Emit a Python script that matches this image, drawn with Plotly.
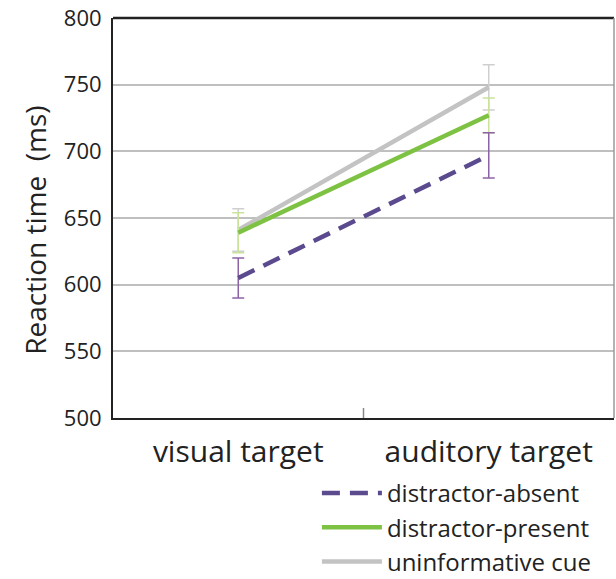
import plotly.graph_objects as go

categories = ["visual target", "auditory target"]
series_names = ["distractor-absent", "distractor-present", "uninformative cue"]
absent_rt = [605, 697]
absent_err = [15, 17]
present_rt = [639, 727]
present_err = [15, 13]
uninf_rt = [641, 748]
uninf_err = [16, 17]
y_ticks = [500, 550, 600, 650, 700, 750, 800]
y_title = "Reaction time  (ms)"

FONT = "Open Sans"
fig = go.Figure()

specs = [
    (series_names[2], uninf_rt, uninf_err, "#c3c3c3", "#cfcfcf", "solid"),
    (series_names[1], present_rt, present_err, "#7dc242", "#c9e39a", "solid"),
    (series_names[0], absent_rt, absent_err, "#5b4a8e", "#8e63a6", "18px,10px"),
]
for rank, (name, y, e, lc, ec, dash) in zip([3, 2, 1], specs):
    fig.add_trace(go.Scatter(
        x=categories, y=y, name=name, mode="lines", legendrank=rank,
        line=dict(color=lc, width=4.5, dash=dash),
        error_y=dict(type="data", array=e, visible=True, color=ec, thickness=1.5, width=6),
    ))

fig.update_layout(
    width=616, height=579,
    margin=dict(l=113, r=2, t=18, b=161, autoexpand=False),
    paper_bgcolor="white", plot_bgcolor="white",
    font=dict(family=FONT, color="#222222"),
    showlegend=True,
    legend=dict(x=0.407, y=-0.1325, xanchor="left", yanchor="top",
                font=dict(size=24, family=FONT, color="#222222"),
                bgcolor="rgba(0,0,0,0)", tracegroupgap=0,
                itemwidth=60),
    xaxis=dict(type="category", range=[-0.5, 1.5], showgrid=False, automargin=False,
               showline=True, linecolor="#222222", linewidth=2,
               ticks="", tickfont=dict(size=30, family=FONT, color="#222222"),
               ticklabelstandoff=6),
    yaxis=dict(range=[500, 800], tickvals=y_ticks, showgrid=True, automargin=False,
               gridcolor="#bfbfbf", gridwidth=1.5, zeroline=False,
               showline=True, linecolor="#222222", linewidth=2,
               ticks="", tickfont=dict(size=22, family=FONT, color="#222222"),
               ticklabelstandoff=5),
    annotations=[dict(text=y_title, xref="paper", yref="paper", x=-0.156, y=0.47,
                      xanchor="center", yanchor="middle", textangle=-90, showarrow=False,
                      font=dict(size=28, family=FONT, color="#222222"))],
)
# top and right frame
fig.add_shape(type="line", xref="paper", yref="paper", x0=0, x1=1, y0=1, y1=1,
              line=dict(color="#222222", width=2.5))
fig.add_shape(type="line", xref="paper", yref="paper", x0=1, x1=1, y0=0, y1=1,
              line=dict(color="#9a9a9a", width=1.5))
# middle boundary tick
fig.add_shape(type="line", xref="x", yref="paper", x0=0.5, x1=0.5, y0=0, y1=0.025,
              line=dict(color="#888888", width=1.5))

fig.write_html("out.html", config={"displayModeBar": False},
               post_script="document.body.style.margin='0';document.body.style.overflow='hidden';")
